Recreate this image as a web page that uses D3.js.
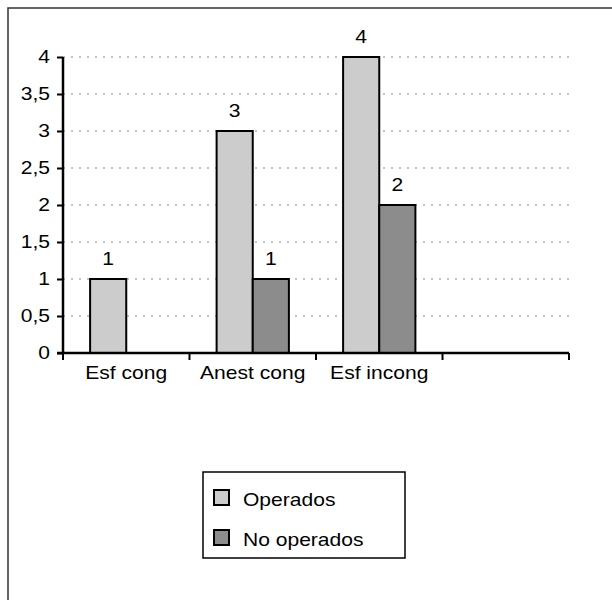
<!DOCTYPE html>
<html>
<head>
<meta charset="utf-8">
<script src="https://cdn.jsdelivr.net/npm/d3@7"></script>
<style>
  body { margin: 0; background: #fff; }
  svg { display: block; font-family: "Liberation Sans", Arial, sans-serif; }
</style>
</head>
<body>
<svg id="chart" width="612" height="600"></svg>
<script>
var categories = ["Esf cong", "Anest cong", "Esf incong", ""];
var operados = [1, 3, 4, null];
var noOperados = [null, 1, 2, null];
var yTicks = [0, 0.5, 1, 1.5, 2, 2.5, 3, 3.5, 4];
var seriesNames = ["Operados", "No operados"];
var seriesColors = ["#cccccc", "#8c8c8c"];

var svg = d3.select("#chart"),
    margin = {top: 57, right: 43, bottom: 247, left: 63},
    width = +svg.attr("width") - margin.left - margin.right,
    height = +svg.attr("height") - margin.top - margin.bottom;

var FS = 18, SX = 1.17;

// the original text is a bit wider than Liberation Sans, so stretch it
function stretch(sel) {
  sel.each(function() {
    var t = d3.select(this);
    var xx = +(t.attr("x") || 0);
    t.attr("x", xx / SX)
     .attr("font-size", FS)
     .attr("font-family", "Liberation Sans, Arial, sans-serif")
     .attr("fill", "#000")
     .attr("transform", "scale(" + SX + ",1)");
  });
}

// outer frame (right and bottom run off the picture)
svg.append("rect")
    .attr("x", 8).attr("y", 8)
    .attr("width", 640).attr("height", 640)
    .attr("fill", "none")
    .attr("stroke", "#333")
    .attr("stroke-width", 1.5);

var g = svg.append("g").attr("transform", "translate(" + margin.left + "," + margin.top + ")");

var x = d3.scaleBand()
    .domain(d3.range(categories.length))
    .range([0, width]);

var bw = x.bandwidth() / 3.5;

var y = d3.scaleLinear()
    .domain([0, 4])
    .range([height, 0]);

// gridlines
g.append("g")
  .selectAll("line")
  .data(yTicks.filter(function(d) { return d > 0; }))
  .enter().append("line")
    .attr("x1", 0).attr("x2", width)
    .attr("y1", function(d) { return y(d); })
    .attr("y2", function(d) { return y(d); })
    .attr("stroke", "#b0b0b0")
    .attr("stroke-width", 1.5)
    .attr("stroke-dasharray", "2,6");

var data = [];
categories.forEach(function(c, i) {
  [operados, noOperados].forEach(function(s, j) {
    if (s[i] != null) data.push({i: i, s: j, v: s[i]});
  });
});

var bars = g.append("g");
bars.selectAll("rect")
  .data(data)
  .enter().append("rect")
    .attr("x", function(d) { return x(d.i) + bw * 0.75 + d.s * bw; })
    .attr("y", function(d) { return y(d.v); })
    .attr("width", bw)
    .attr("height", function(d) { return height - y(d.v); })
    .attr("fill", function(d) { return seriesColors[d.s]; })
    .attr("stroke", "#000")
    .attr("stroke-width", 2);

bars.selectAll("text")
  .data(data)
  .enter().append("text")
    .attr("x", function(d) { return x(d.i) + bw * 0.75 + d.s * bw + bw / 2; })
    .attr("y", function(d) { return y(d.v) - 14; })
    .attr("text-anchor", "middle")
    .text(function(d) { return d.v; })
    .call(stretch);

// y axis
var yAxis = d3.axisLeft(y)
    .tickValues(yTicks)
    .tickSize(6)
    .tickPadding(7)
    .tickFormat(function(d) { return String(d).replace(".", ","); });

var ya = g.append("g").call(yAxis);
ya.select(".domain").attr("stroke", "#000").attr("stroke-width", 2.5).attr("d", "M0," + height + "V0");
ya.selectAll(".tick line").attr("stroke", "#000").attr("stroke-width", 2);
ya.selectAll(".tick text").call(stretch);

// x axis
var xa = g.append("g").attr("transform", "translate(0," + height + ")");
xa.append("line")
    .attr("x1", -6).attr("x2", width)
    .attr("stroke", "#000").attr("stroke-width", 2.5);
xa.selectAll("line.tk")
  .data(d3.range(categories.length + 1))
  .enter().append("line")
    .attr("class", "tk")
    .attr("x1", function(d) { return d * x.step(); })
    .attr("x2", function(d) { return d * x.step(); })
    .attr("y1", 0).attr("y2", 7)
    .attr("stroke", "#000").attr("stroke-width", 2);
xa.selectAll("text")
  .data(categories)
  .enter().append("text")
    .attr("x", function(d, i) { return x(i) + x.bandwidth() / 2; })
    .attr("y", 26)
    .attr("text-anchor", "middle")
    .text(function(d) { return d; })
    .call(stretch);

// legend
var lg = svg.append("g").attr("transform", "translate(203,472)");
lg.append("rect")
    .attr("width", 202).attr("height", 86)
    .attr("fill", "#fff")
    .attr("stroke", "#000").attr("stroke-width", 1.5);
var item = lg.selectAll("g.item")
  .data(seriesNames)
  .enter().append("g")
    .attr("class", "item")
    .attr("transform", function(d, i) { return "translate(11," + (18 + i * 40) + ")"; });
item.append("rect")
    .attr("width", 15).attr("height", 15)
    .attr("fill", function(d, i) { return seriesColors[i]; })
    .attr("stroke", "#000").attr("stroke-width", 2);
item.append("text")
    .attr("x", 29).attr("y", 16)
    .text(function(d) { return d; })
    .call(stretch);
</script>
</body>
</html>
